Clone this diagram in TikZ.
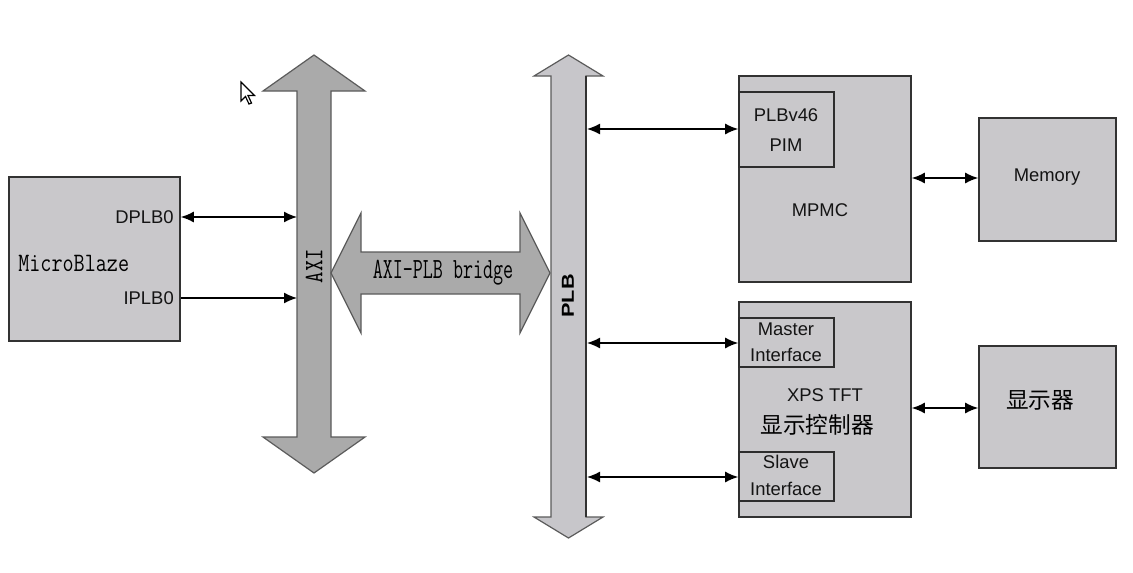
\documentclass[tikz,border=0pt]{standalone}
\usepackage{fontspec}
\setmainfont{Liberation Sans}
\newfontfamily\cjk{Noto Sans CJK SC}
\usetikzlibrary{arrows.meta,fit}
\definecolor{boxgray}{RGB}{201,200,203}
\definecolor{axigray}{RGB}{170,170,170}
\definecolor{plbgray}{RGB}{199,198,202}
\definecolor{edge}{RGB}{50,50,50}
\tikzset{
  box/.style={draw=edge, line width=1.2pt, fill=boxgray, inner sep=0pt},
  sub/.style={draw=edge!90!black, line width=1.2pt, fill=boxgray, inner sep=0pt},
  bus/.style={draw=edge!80, line width=0.9pt},
  conn/.style={line width=1.1pt, black, {Latex[length=9.75pt,width=8.25pt]}-{Latex[length=9.75pt,width=8.25pt]}},
  conn1/.style={line width=1.1pt, black, -{Latex[length=9.75pt,width=8.25pt]}},
  lbl/.style={font=\fontsize{13.8pt}{15pt}\selectfont, text=black!92, inner sep=0pt},
  cjklbl/.style={font=\cjk\fontsize{17pt}{19pt}\selectfont, inner sep=0pt},
  monolbl/.style={font=\ttfamily\fontsize{19pt}{20pt}\selectfont, inner sep=0pt},
}
\begin{document}
\begin{tikzpicture}[x=0.75pt,y=-0.75pt]
\useasboundingbox (0,0) rectangle (1133,572);
\fill[white] (0,0) rectangle (1133,572);

% mouse cursor
\draw[fill=white, line width=0.9pt, line join=miter]
  (241,82) -- (241,101) -- (245.5,96.5) -- (249,104) -- (251.5,103) -- (248,95.5) -- (254.5,95.5) -- cycle;

% AXI bus
\draw[bus, fill=axigray] (314,55) -- (365,91) -- (331,91) -- (331,437) -- (365,437) -- (314,473)
  -- (263,437) -- (297,437) -- (297,91) -- (263,91) -- cycle;
\node[monolbl, rotate=90] (axilbl) at (314,266) {\scalebox{0.88}[1.05]{AXI}};
\coordinate (axiD) at (297,217);
\coordinate (axiI) at (297,298);

% AXI-PLB bridge
\draw[bus, fill=axigray] (331,273) -- (361,213) -- (361,252) -- (520,252) -- (520,213) -- (550,273)
  -- (520,333) -- (520,294) -- (361,294) -- (361,333) -- cycle;
\node[monolbl, font=\ttfamily\fontsize{20pt}{21pt}\selectfont] (brlbl) at (443,273) {\scalebox{0.73}[1.1]{AXI-PLB bridge}};

% PLB bus
\draw[bus, fill=plbgray] (568.5,55) -- (603,76) -- (586,76) -- (586,517) -- (603,517) -- (568.5,538)
  -- (534,517) -- (551,517) -- (551,76) -- (534,76) -- cycle;
\draw[line width=1.35pt, edge] (586,76) -- (586,517);
\node[rotate=90, font=\bfseries\fontsize{13pt}{14pt}\selectfont, inner sep=0pt] (plblbl) at (568,296) {\scalebox{1.25}[1]{PLB}};
\coordinate (plb1) at (587,129);
\coordinate (plb2) at (587,343);
\coordinate (plb3) at (587,477);

% MicroBlaze
\node[box, fit={(9,177)(180,341)}] (mb) {};
\node[monolbl, anchor=west] (mbl) at (18,263) {\scalebox{0.85}[1.05]{MicroBlaze}};
\node[lbl, anchor=east] (dplb) at (174,217) {DPLB0};
\node[lbl, anchor=east] (iplb) at (174,298) {IPLB0};

% MPMC
\node[box, fit={(739,76)(911,282)}] (mpmc) {};
\node[sub, fit={(739,92)(834,167)}] (pim) {};
\node[lbl] at (786,115) {PLBv46};
\node[lbl] at (786,145) {PIM};
\node[lbl] (mpmcl) at (820,210) {MPMC};

% Memory
\node[box, fit={(979,118)(1116,241)}] (mem) {};
\node[lbl] at (1047,177) {Memory};

% XPS TFT
\node[box, fit={(739,302)(911,517)}] (tft) {};
\node[sub, fit={(739,318)(834,367)}] (master) {};
\node[lbl] at (786,329) {Master};
\node[lbl] at (786,355) {Interface};
\node[sub, fit={(739,452)(834,501)}] (slave) {};
\node[lbl] at (786,462) {Slave};
\node[lbl] at (786,489) {Interface};
\node[lbl] (xps) at (825,395) {XPS TFT};
\node[cjklbl] (tftcn) at (817,425) {显示控制器};

% Display
\node[box, fit={(979,346)(1116,468)}] (disp) {};
\node[cjklbl] at (1040,400) {显示器};

% connectors
\coordinate (ym) at (0,178);
\coordinate (yd) at (0,408);
\draw[conn] (mb.east |- axiD) -- (axiD);
\draw[conn1] (mb.east |- axiI) -- (axiI);
\draw[conn] (plb1) -- (pim.west |- plb1);
\draw[conn] (plb2) -- (master.west |- plb2);
\draw[conn] (plb3) -- (slave.west |- plb3);
\draw[conn] (mpmc.east |- ym) -- (mem.west |- ym);
\draw[conn] (tft.east |- yd) -- (disp.west |- yd);
\end{tikzpicture}
\end{document}
